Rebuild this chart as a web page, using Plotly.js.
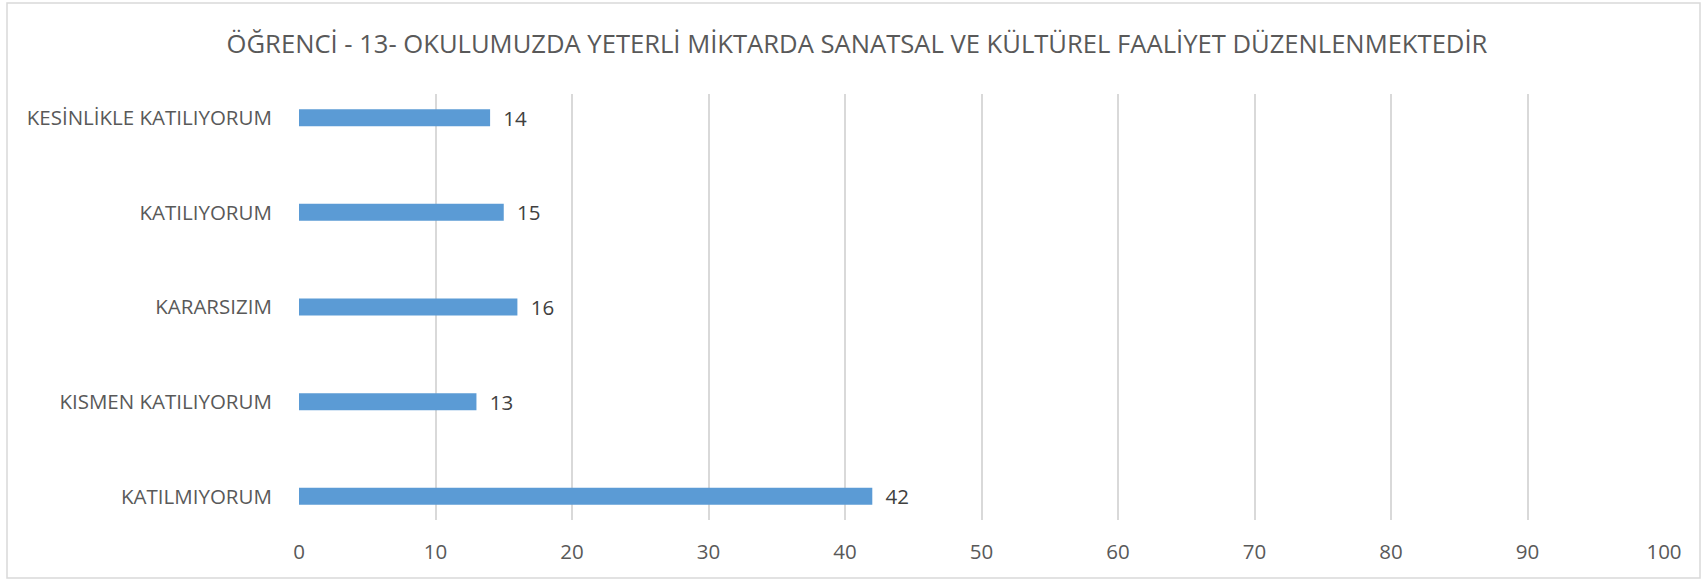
<!DOCTYPE html>
<html>
<head>
<meta charset="utf-8">
<script src="https://cdn.plot.ly/plotly-3.0.1.min.js"></script>
<style>html,body{margin:0;padding:0;background:#fff;}#chart{width:1703px;height:581px;}</style>
</head>
<body>
<div id="chart"></div>
<script>
const chartTitle = "ÖĞRENCİ - 13- OKULUMUZDA YETERLİ MİKTARDA SANATSAL VE KÜLTÜREL FAALİYET DÜZENLENMEKTEDİR";
const categories = ["KATILMIYORUM", "KISMEN KATILIYORUM", "KARARSIZIM", "KATILIYORUM", "KESİNLİKLE KATILIYORUM"];
const values = [42, 13, 16, 15, 14];
const xTicks = [0, 10, 20, 30, 40, 50, 60, 70, 80, 90, 100];

const FONT = "Open Sans, Noto Sans, sans-serif";
const grey = "#595959";

const trace = {
  type: "bar",
  orientation: "h",
  y: categories,
  x: values,
  width: 0.18,
  marker: {color: "#5b9bd5", line: {width: 0}},
  text: values.map(v => "\u2002" + v),
  textposition: "outside",
  constraintext: "none",
  cliponaxis: false,
  textfont: {family: FONT, size: 20.5, color: "#404040"},
  outsidetextfont: {family: FONT, size: 20.5, color: "#404040"},
  hoverinfo: "x+y"
};

const layout = {
  width: 1703,
  height: 581,
  margin: {l: 299, r: 39, t: 94, b: 61, pad: 0},
  paper_bgcolor: "#ffffff",
  plot_bgcolor: "#ffffff",
  showlegend: false,
  title: {
    text: chartTitle,
    font: {family: FONT, size: 25.6, color: grey},
    x: 857 / 1703, xref: "container", xanchor: "center",
    y: 1 - 44/581, yref: "container", yanchor: "middle"
  },
  xaxis: {
    range: [0, 100],
    tickvals: xTicks,
    ticktext: xTicks.map(String),
    showgrid: true,
    gridcolor: "#d9d9d9",
    gridwidth: 2,
    zeroline: false,
    showline: false,
    ticks: "outside",
    ticklen: 13,
    tickcolor: "rgba(0,0,0,0)",
    tickfont: {family: FONT, size: 20.5, color: grey},
    fixedrange: true
  },
  yaxis: {
    type: "category",
    categoryorder: "array",
    categoryarray: categories,
    range: [-0.25, 4.25],
    showgrid: false,
    zeroline: false,
    showline: false,
    ticks: "outside",
    ticklen: 22,
    tickcolor: "rgba(0,0,0,0)",
    tickfont: {family: FONT, size: 20.5, color: grey},
    fixedrange: true
  },
  shapes: [{
    type: "rect", xref: "paper", yref: "paper",
    x0: (7 - 299) / 1365, x1: (1700 - 299) / 1365,
    y0: -(578 - 520) / 426, y1: 1 + (94 - 3) / 426,
    line: {color: "#d9d9d9", width: 1.5},
    fillcolor: "rgba(0,0,0,0)", layer: "below"
  }]
};

Plotly.newPlot("chart", [trace], layout, {displayModeBar: false, staticPlot: true});
</script>
</body>
</html>
